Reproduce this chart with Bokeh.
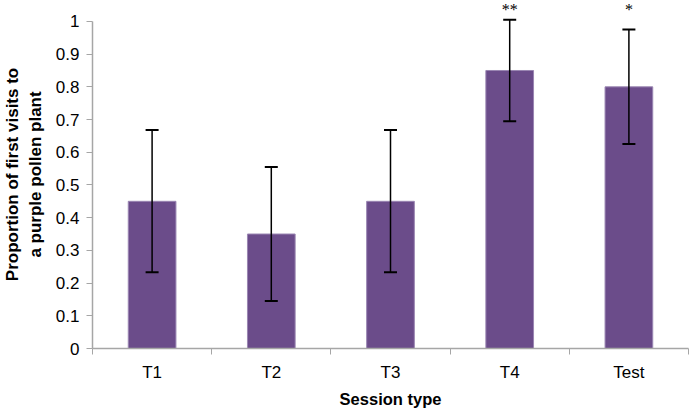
from bokeh.plotting import figure
from bokeh.models import Range1d, FixedTicker, ColumnDataSource, Whisker, TeeHead, LabelSet
from bokeh.embed import file_html
from bokeh.resources import INLINE

categories = ["T1", "T2", "T3", "T4", "Test"]
proportions = [0.45, 0.35, 0.45, 0.85, 0.80]
err_lower = [0.233, 0.145, 0.233, 0.695, 0.625]
err_upper = [0.668, 0.555, 0.668, 1.005, 0.975]
signif = ["", "", "", "**", "*"]
y_ticks = [0, 0.1, 0.2, 0.3, 0.4, 0.5, 0.6, 0.7, 0.8, 0.9, 1.0]
y_tick_labels = ["0", "0.1", "0.2", "0.3", "0.4", "0.5", "0.6", "0.7", "0.8", "0.9", "1"]

Y_END = 1.064      # headroom above the axis for the significance stars
STAR_Y = 1.061     # where the stars hang from

xpos = [i + 0.5 for i in range(len(categories))]
src = ColumnDataSource(dict(x=xpos, top=proportions, lo=err_lower, hi=err_upper,
                            sig=signif, sy=[STAR_Y] * len(categories)))

FONT = "Liberation Sans"
GREY = "#a6a6a6"

p = figure(width=689, height=410, output_backend="svg", toolbar_location=None,
           x_range=Range1d(0, len(categories)), y_range=Range1d(0, Y_END),
           min_border_left=91, min_border_right=1, min_border_top=0, min_border_bottom=62)
p.outline_line_color = None
p.grid.grid_line_color = None

p.vbar(x="x", top="top", width=0.4, source=src, fill_color="#6B4C8A",
       line_color="#9a86b2", line_width=1)

w = Whisker(base="x", lower="lo", upper="hi", source=src, line_color="black", line_width=1.5,
            level="overlay",
            upper_head=TeeHead(size=13, line_width=2, line_color="black"),
            lower_head=TeeHead(size=13, line_width=2, line_color="black"))
p.add_layout(w)

labels = LabelSet(x="x", y="sy", text="sig", source=src, text_align="center",
                  text_baseline="top", text_font=FONT, text_font_size="16px",
                  text_color="black")
p.add_layout(labels)

# x axis
p.xaxis.ticker = FixedTicker(ticks=xpos, minor_ticks=list(range(len(categories) + 1)))
p.xaxis.major_label_overrides = {x: c for x, c in zip(xpos, categories)}
p.xaxis.major_tick_out = 0
p.xaxis.major_tick_in = 0
p.xaxis.minor_tick_out = 6
p.xaxis.minor_tick_in = 0
p.xaxis.minor_tick_line_color = GREY
p.xaxis.axis_line_color = GREY
p.xaxis.axis_line_width = 1.5
p.xaxis.major_label_standoff = 8
p.xaxis.axis_label = "Session type"
p.xaxis.axis_label_standoff = 5

# y axis
p.yaxis.ticker = FixedTicker(ticks=y_ticks)
p.yaxis.bounds = (0, 1)
p.yaxis.major_label_overrides = {t: l for t, l in zip(y_ticks, y_tick_labels)}
p.yaxis.major_tick_out = 6
p.yaxis.major_tick_in = 0
p.yaxis.minor_tick_line_color = None
p.yaxis.major_tick_line_color = GREY
p.yaxis.axis_line_color = GREY
p.yaxis.axis_line_width = 1.5
p.yaxis.major_label_standoff = 7
p.yaxis.axis_label = "Proportion of first visits to\na purple pollen plant"
p.yaxis.axis_label_standoff = 8
p.yaxis.axis_label_text_line_height = 1.2

for ax in (p.xaxis, p.yaxis):
    ax.major_label_text_font = FONT
    ax.major_label_text_font_size = "17px"
    ax.major_label_text_color = "black"
    ax.axis_label_text_font = FONT
    ax.axis_label_text_font_size = "17px"
    ax.axis_label_text_font_style = "bold"
    ax.axis_label_text_color = "black"
p.xaxis.axis_label_text_font_size = "16.5px"

open("out.html", "w").write(file_html(p, INLINE))
